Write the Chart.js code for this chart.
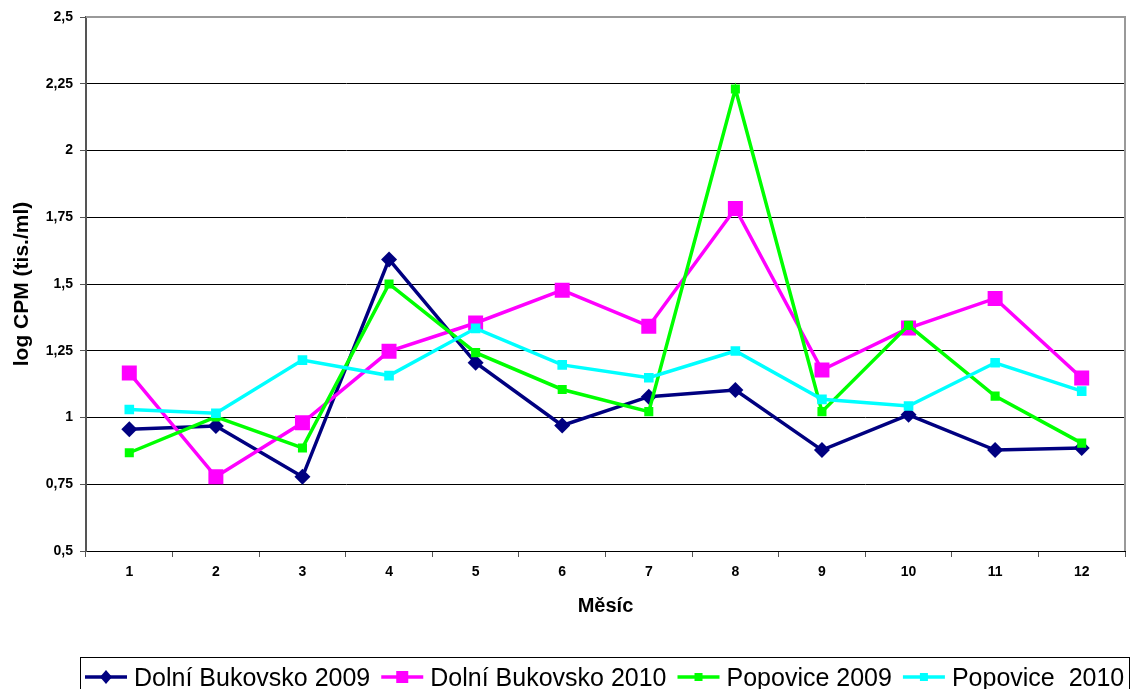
<!DOCTYPE html>
<html>
<head>
<meta charset="utf-8">
<script src="https://cdn.jsdelivr.net/npm/chart.js@4/dist/chart.umd.min.js"></script>
<style>
html,body{margin:0;padding:0;background:#fff;}
canvas{display:block;}
</style>
</head>
<body>
<canvas id="c" width="1141" height="689"></canvas>
<script>
const months = ['1','2','3','4','5','6','7','8','9','10','11','12'];
const yTickLabels = ['0,5','0,75','1','1,25','1,5','1,75','2','2,25','2,5'];
const seriesNames = ['Dolní Bukovsko 2009','Dolní Bukovsko 2010','Popovice 2009','Popovice  2010'];
const dolniBukovsko2009 = [0.956, 0.968, 0.778, 1.592, 1.205, 0.970, 1.078, 1.103, 0.878, 1.010, 0.878, 0.886];
const dolniBukovsko2010 = [1.167, 0.778, 0.980, 1.248, 1.354, 1.477, 1.342, 1.783, 1.178, 1.335, 1.446, 1.148];
const popovice2009 = [0.868, 1.002, 0.886, 1.500, 1.243, 1.105, 1.022, 2.230, 1.022, 1.345, 1.080, 0.904];
const popovice2010 = [1.030, 1.016, 1.215, 1.157, 1.334, 1.197, 1.149, 1.249, 1.068, 1.043, 1.205, 1.099];

const FONT = '"Liberation Sans", Arial, sans-serif';
const colors = ['#000080', '#FF00FF', '#00FF00', '#00FFFF'];
const styles = [
  {pointStyle: 'rectRot', radius: 8},
  {pointStyle: 'rect', radius: 10.6},
  {pointStyle: 'rect', radius: 6.4},
  {pointStyle: 'rect', radius: 6.8}
];
const values = [dolniBukovsko2009, dolniBukovsko2010, popovice2009, popovice2010];

const datasets = values.map((v, i) => ({
  label: seriesNames[i],
  data: v,
  borderColor: colors[i],
  backgroundColor: colors[i],
  borderWidth: 3.5,
  pointStyle: styles[i].pointStyle,
  pointRadius: styles[i].radius,
  pointHoverRadius: styles[i].radius,
  pointBorderWidth: 0,
  pointBackgroundColor: colors[i],
  tension: 0,
  order: 3 - i
}));

const frame = {
  id: 'frame',
  beforeDatasetsDraw(chart) {
    const {ctx, chartArea: a} = chart;
    ctx.save();
    ctx.strokeStyle = '#999999';
    ctx.lineWidth = 2;
    ctx.beginPath();
    ctx.moveTo(a.left, a.top);
    ctx.lineTo(a.right, a.top);
    ctx.lineTo(a.right, a.bottom);
    ctx.stroke();
    ctx.restore();
  }
};

const customLegend = {
  id: 'customLegend',
  afterDraw(chart) {
    const ctx = chart.ctx;
    ctx.save();
    ctx.strokeStyle = '#000';
    ctx.lineWidth = 1;
    ctx.strokeRect(80.5, 657.5, 1049, 40);
    ctx.font = '25px ' + FONT;
    ctx.textBaseline = 'alphabetic';
    ctx.fillStyle = '#000';
    let x = 85;
    const yc = 677;
    chart.data.datasets.forEach((ds, i) => {
      ctx.strokeStyle = ds.borderColor;
      ctx.fillStyle = ds.borderColor;
      ctx.lineWidth = 3.5;
      ctx.beginPath();
      ctx.moveTo(x, yc);
      ctx.lineTo(x + 42, yc);
      ctx.stroke();
      const cx = x + 21;
      if (ds.pointStyle === 'rectRot') {
        ctx.beginPath();
        ctx.moveTo(cx, yc - 7);
        ctx.lineTo(cx + 6, yc);
        ctx.lineTo(cx, yc + 7);
        ctx.lineTo(cx - 6, yc);
        ctx.closePath();
        ctx.fill();
      } else if (i === 1) {
        ctx.fillRect(cx - 6, yc - 6, 12, 12);
      } else {
        ctx.fillRect(cx - 4, yc - 4, 8, 8);
      }
      ctx.fillStyle = '#000';
      ctx.fillText(ds.label, x + 49, 686);
      x += 49 + ctx.measureText(ds.label).width + 11;
    });
    ctx.restore();
  }
};

new Chart(document.getElementById('c'), {
  type: 'line',
  data: {labels: months, datasets: datasets},
  options: {
    responsive: false,
    animation: false,
    devicePixelRatio: 1,
    layout: {padding: {left: 0, right: 16, top: 17, bottom: 68}},
    plugins: {legend: {display: false}, tooltip: {enabled: false}},
    scales: {
      x: {
        type: 'category',
        offset: true,
        afterFit(s) { s.height = 70; },
        grid: {offset: true, drawOnChartArea: false, tickLength: 6, tickColor: '#555', tickWidth: 1},
        border: {color: '#000', width: 1},
        ticks: {color: '#000', font: {family: FONT, size: 14, weight: 'bold'}, padding: 7, maxRotation: 0},
        title: {display: true, text: 'Měsíc', color: '#000', font: {family: FONT, size: 20, weight: 'bold'}, padding: {top: 0, bottom: 3}}
      },
      y: {
        min: 0.5,
        max: 2.5,
        afterFit(s) { s.width = 86; },
        ticks: {
          stepSize: 0.25,
          color: '#000',
          font: {family: FONT, size: 14, weight: 'bold'},
          padding: 7,
          callback: (v, i) => yTickLabels[i]
        },
        grid: {
          color: (c) => (c.tick && c.tick.value === 2.5) ? '#999999' : '#000000',
          lineWidth: 1,
          tickLength: 6,
          tickColor: '#555'
        },
        border: {color: '#555', width: 2},
        title: {display: true, text: 'log CPM (tis./ml)', color: '#000', font: {family: FONT, size: 21, weight: 'bold'}, padding: {top: 10, bottom: 0}}
      }
    }
  },
  plugins: [frame, customLegend]
});
</script>
</body>
</html>
